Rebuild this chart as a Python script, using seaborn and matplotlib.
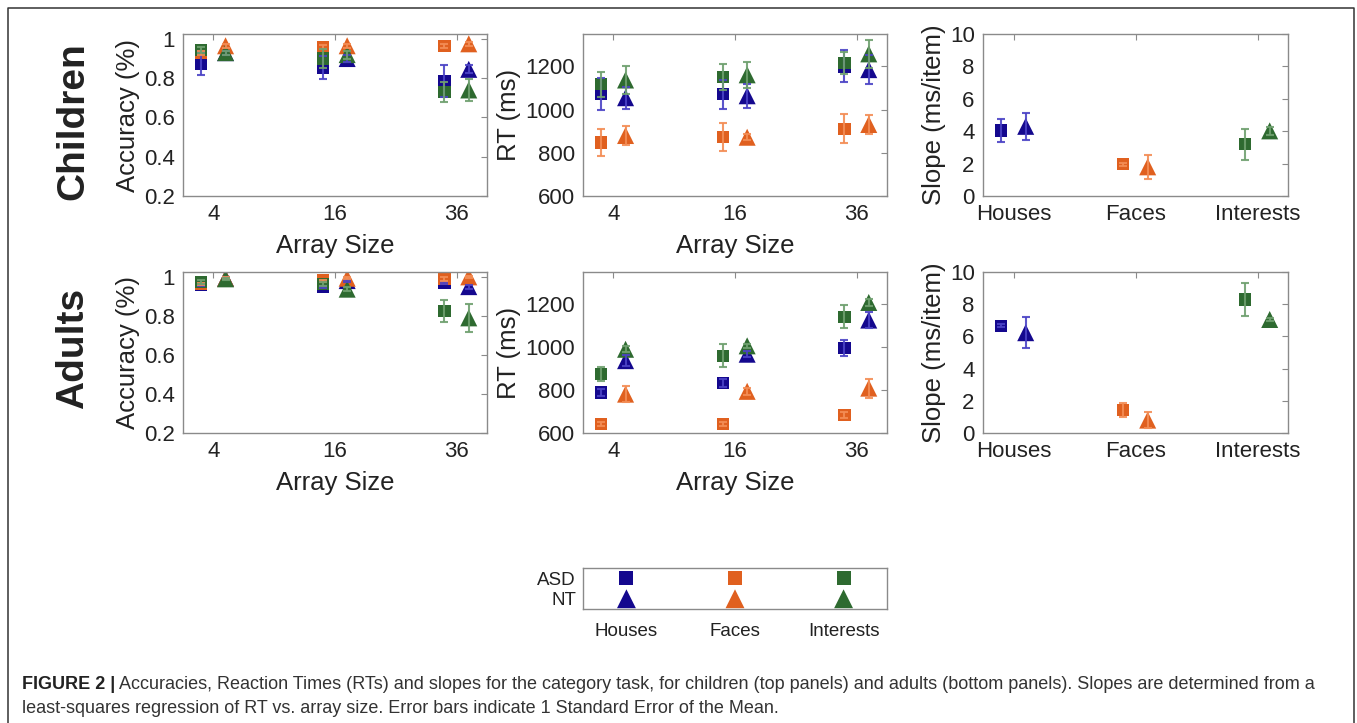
import numpy as np
import pandas as pd
import matplotlib
matplotlib.use('Agg')
import matplotlib.pyplot as plt
import seaborn as sns
from matplotlib.lines import Line2D
from matplotlib import font_manager as fm

# ---------------- data ----------------
sizes = ['4', '16', '36']
categories = ['Houses', 'Faces', 'Interests']
groups = ['ASD', 'NT']

# rows = categories (Houses, Faces, Interests); columns = array sizes (4, 16, 36)
child_acc_asd = [[0.875, 0.855, 0.785], [0.93, 0.96, 0.965], [0.945, 0.90, 0.73]]
child_acc_asd_se = [[0.06, 0.06, 0.08], [0.01, 0.01, 0.01], [0.015, 0.05, 0.05]]
child_acc_nt = [[0.93, 0.90, 0.845], [0.965, 0.965, 0.975], [0.93, 0.92, 0.74]]
child_acc_nt_se = [[0.01, 0.02, 0.02], [0.01, 0.01, 0.01], [0.01, 0.02, 0.055]]

child_rt_asd = [[1072, 1072, 1200], [848, 872, 911], [1117, 1150, 1216]]
child_rt_asd_se = [[72, 67, 74], [61, 64, 67], [59, 60, 52]]
child_rt_nt = [[1055, 1064, 1185], [880, 872, 931], [1137, 1161, 1258]]
child_rt_nt_se = [[50, 55, 66], [42, 15, 44], [65, 61, 64]]

adult_acc_asd = [[0.957, 0.95, 0.971], [0.964, 0.981, 0.99], [0.973, 0.964, 0.826]]
adult_acc_asd_se = [[0.005, 0.005, 0.005], [0.005, 0.005, 0.01], [0.01, 0.01, 0.056]]
adult_acc_nt = [[0.993, 0.981, 0.95], [0.993, 0.993, 1.0], [0.99, 0.937, 0.79]]
adult_acc_nt_se = [[0.005, 0.005, 0.01], [0.005, 0.005, 0.005], [0.005, 0.01, 0.072]]

adult_rt_asd = [[789, 833, 997], [642, 642, 685], [875, 960, 1141]]
adult_rt_asd_se = [[18, 20, 36], [10, 10, 15], [33, 54, 53]]
adult_rt_nt = [[937, 967, 1126], [781, 794, 809], [990, 1006, 1208]]
adult_rt_nt_se = [[25, 15, 39], [37, 15, 44], [15, 10, 15]]

# slopes per category (Houses, Faces, Interests)
child_slope_asd = [4.05, 1.96, 3.2]
child_slope_asd_se = [0.72, 0.1, 0.95]
child_slope_nt = [4.3, 1.8, 4.02]
child_slope_nt_se = [0.82, 0.73, 0.25]

adult_slope_asd = [6.66, 1.44, 8.29]
adult_slope_asd_se = [0.1, 0.45, 1.03]
adult_slope_nt = [6.23, 0.8, 7.05]
adult_slope_nt_se = [0.95, 0.5, 0.1]

caption_bold = "FIGURE 2 |"
caption_1 = (" Accuracies, Reaction Times (RTs) and slopes for the category task, for children "
             "(top panels) and adults (bottom panels). Slopes are determined from a")
caption_2 = ("least-squares regression of RT vs. array size. Error bars indicate 1 Standard "
             "Error of the Mean.")

# ---------------- style ----------------
sns.set_style('white')
plt.rcParams['font.family'] = ['Liberation Sans', 'DejaVu Sans']

palette = {'Houses': '#14088E', 'Faces': '#E0601F', 'Interests': '#2E6A30'}
err_col = {'Houses': '#4B43C6', 'Faces': '#F38D55', 'Interests': '#6FA06F'}
spine_col = '#8a8a8a'
text_col = '#222222'
offsets = {'ASD': -0.1, 'NT': 0.1}


def long_df_grid(asd, asd_se, nt, nt_se):
    rows = []
    for g, m, s in [('ASD', asd, asd_se), ('NT', nt, nt_se)]:
        for ci, c in enumerate(categories):
            for si, sz in enumerate(sizes):
                rows.append(dict(cat=c, group=g, pos=si + 1, val=m[ci][si], se=s[ci][si]))
    df = pd.DataFrame(rows)
    df['cat'] = pd.Categorical(df['cat'], categories)
    return df.sort_values(['cat', 'group'], kind='stable').reset_index(drop=True)


def long_df_slope(asd, asd_se, nt, nt_se):
    rows = []
    for g, m, s in [('ASD', asd, asd_se), ('NT', nt, nt_se)]:
        for ci, c in enumerate(categories):
            rows.append(dict(cat=c, group=g, pos=ci + 1, val=m[ci], se=s[ci]))
    df = pd.DataFrame(rows)
    df['cat'] = pd.Categorical(df['cat'], categories)
    return df.sort_values(['cat', 'group'], kind='stable').reset_index(drop=True)


def style_ax(ax):
    for sp in ax.spines.values():
        sp.set_visible(True)
        sp.set_color(spine_col)
        sp.set_linewidth(1.0)
    ax.tick_params(direction='in', top=True, right=True, length=4, width=0.8,
                   color=spine_col, labelsize=16, labelcolor=text_col, pad=6)


def panel(ax, df, ylim, yticks, yticklabels, xticklabels, ylabel, xlabel=None):
    df = df.copy()
    df['x'] = df['pos'] + df['group'].map(offsets)
    sns.scatterplot(data=df, x='x', y='val', hue='cat', style='group', size='group',
                    hue_order=categories, style_order=groups, size_order=groups,
                    palette=palette, markers={'ASD': 's', 'NT': '^'},
                    sizes={'ASD': 78, 'NT': 150}, linewidth=0, legend=False,
                    ax=ax, zorder=2)
    for _, r in df.iterrows():
        ax.errorbar(r['x'], r['val'], yerr=r['se'], fmt='none', ecolor=err_col[r['cat']],
                    elinewidth=1.5, capsize=3, capthick=1.5, zorder=3, alpha=0.9)
    ax.set_xlim(0.75, 3.25)
    ax.set_ylim(*ylim)
    ax.set_xticks([1, 2, 3])
    ax.set_xticklabels(xticklabels)
    ax.set_yticks(yticks)
    ax.set_yticklabels(yticklabels)
    ax.set_ylabel(ylabel, fontsize=18.5, color=text_col, labelpad=3)
    if xlabel:
        ax.set_xlabel(xlabel, fontsize=18.5, color=text_col, labelpad=6)
    else:
        ax.set_xlabel('')
    style_ax(ax)


W, H = 1357, 723
fig = plt.figure(figsize=(W / 100, H / 100), dpi=100)


def add_ax(x0, y0, x1, y1):
    return fig.add_axes([x0 / W, 1 - y1 / H, (x1 - x0) / W, (y1 - y0) / H])


acc_ticks = [0.2, 0.4, 0.6, 0.8, 1.0]
acc_labels = ['0.2', '0.4', '0.6', '0.8', '1']
rt_ticks = [600, 800, 1000, 1200]
rt_labels = ['600', '800', '1000', '1200']
sl_ticks = [0, 2, 4, 6, 8, 10]
sl_labels = ['0', '2', '4', '6', '8', '10']

rows_px = [(34, 196), (272, 433)]
cols_px = [(183, 487), (583, 887), (983, 1288)]

data_rows = [
    (long_df_grid(child_acc_asd, child_acc_asd_se, child_acc_nt, child_acc_nt_se),
     long_df_grid(child_rt_asd, child_rt_asd_se, child_rt_nt, child_rt_nt_se),
     long_df_slope(child_slope_asd, child_slope_asd_se, child_slope_nt, child_slope_nt_se)),
    (long_df_grid(adult_acc_asd, adult_acc_asd_se, adult_acc_nt, adult_acc_nt_se),
     long_df_grid(adult_rt_asd, adult_rt_asd_se, adult_rt_nt, adult_rt_nt_se),
     long_df_slope(adult_slope_asd, adult_slope_asd_se, adult_slope_nt, adult_slope_nt_se)),
]

for (y0, y1), (dacc, drt, dsl) in zip(rows_px, data_rows):
    ax = add_ax(cols_px[0][0], y0, cols_px[0][1], y1)
    panel(ax, dacc, (0.2, 1.025), acc_ticks, acc_labels, sizes, 'Accuracy (%)', 'Array Size')
    ax = add_ax(cols_px[1][0], y0, cols_px[1][1], y1)
    panel(ax, drt, (600, 1350), rt_ticks, rt_labels, sizes, 'RT (ms)', 'Array Size')
    ax = add_ax(cols_px[2][0], y0, cols_px[2][1], y1)
    panel(ax, dsl, (0, 10), sl_ticks, sl_labels, categories, 'Slope (ms/item)')

# row titles
fig.text(73 / W, 1 - 121 / H, 'Children', rotation=90, ha='center', va='center',
         fontsize=28, fontweight='bold', color=text_col)
fig.text(73 / W, 1 - 348 / H, 'Adults', rotation=90, ha='center', va='center',
         fontsize=28, fontweight='bold', color=text_col)

# legend panel
lax = add_ax(583, 568, 887, 609)
leg_rows = []
for g, yv in [('ASD', 0.75), ('NT', 0.25)]:
    for ci, c in enumerate(categories):
        leg_rows.append(dict(cat=c, group=g, x=ci + 1, y=yv))
leg_df = pd.DataFrame(leg_rows)
sns.scatterplot(data=leg_df, x='x', y='y', hue='cat', style='group', size='group',
                hue_order=categories, style_order=groups, size_order=groups,
                palette=palette, markers={'ASD': 's', 'NT': '^'},
                sizes={'ASD': 100, 'NT': 185}, linewidth=0, legend=False, ax=lax)
lax.set_xlim(0.6, 3.4)
lax.set_ylim(0, 1)
lax.set_xticks([1, 2, 3])
lax.set_xticklabels(categories)
lax.set_yticks([0.25, 0.75])
lax.set_yticklabels(['NT', 'ASD'])
lax.set_xlabel('')
lax.set_ylabel('')
for sp in lax.spines.values():
    sp.set_visible(True)
    sp.set_color(spine_col)
    sp.set_linewidth(1.0)
lax.tick_params(length=0, labelsize=13.5, labelcolor=text_col)
lax.tick_params(axis='x', pad=10)
lax.tick_params(axis='y', pad=5)

# outer frame (left, top, right)
fx0, fy0, fx1 = 7.5 / W, 1 - 7.5 / H, 1354 / W
fig.add_artist(Line2D([fx0, fx0, fx1, fx1], [0, fy0, fy0, 0], transform=fig.transFigure,
                      color='#333333', lw=1.1))

# caption
names = {f.name for f in fm.fontManager.ttflist}
cap_family = ['Liberation Sans Narrow'] if 'Liberation Sans Narrow' in names else ['Liberation Sans']
cap_size = 13
tb = fig.text(22 / W, 1 - 689 / H, caption_bold, fontsize=cap_size, fontweight='bold',
              color=text_col, ha='left', va='baseline', family=cap_family)
fig.canvas.draw()
bb = tb.get_window_extent(fig.canvas.get_renderer())
fig.text(bb.x1 / W, 1 - 689 / H, caption_1, fontsize=cap_size, color='#333333',
         ha='left', va='baseline', family=cap_family)
fig.text(22 / W, 1 - 713 / H, caption_2, fontsize=cap_size, color='#333333',
         ha='left', va='baseline', family=cap_family)

fig.savefig('out.png', dpi=100)
